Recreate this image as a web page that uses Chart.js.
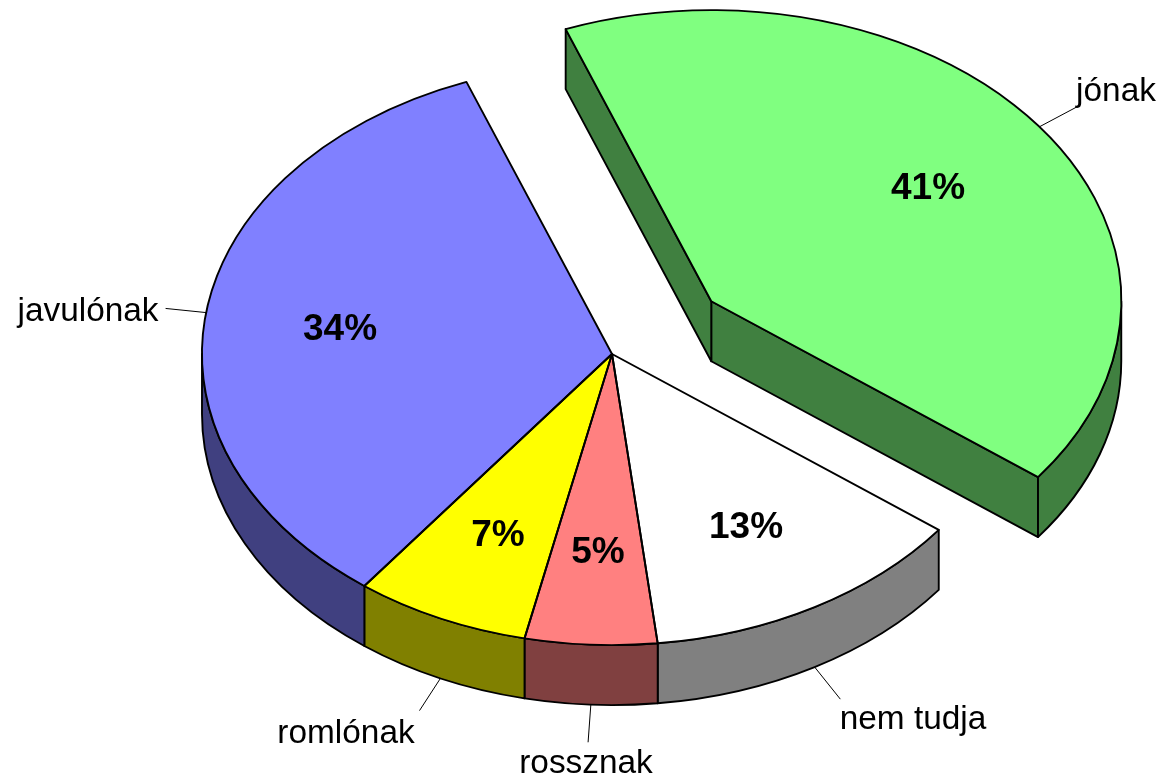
<!DOCTYPE html>
<html>
<head>
<meta charset="utf-8">
<title>3D pie</title>
<style>
  html, body { margin: 0; padding: 0; background: #fff; }
  canvas { display: block; }
</style>
<script src="https://cdn.jsdelivr.net/npm/chart.js@4/dist/chart.umd.min.js"></script>
</head>
<body>
<canvas id="chart" width="1163" height="781"></canvas>
<script>
'use strict';

const categories = ['jónak', 'nem tudja', 'rossznak', 'romlónak', 'javulónak'];
const shares = [41.1, 12.9, 5.2, 6.9, 33.9];
const topColors = ['#80ff80', '#ffffff', '#ff8080', '#ffff00', '#8080ff'];
const sideColors = ['#408040', '#808080', '#804040', '#808000', '#404080'];
const explode = [124, 0, 0, 0, 0];

const squash = 0.71;
const depth = 60;
const lineWidth = 1.9;
const valueFont = 'bold 37px "Liberation Sans", Arial, sans-serif';
const nameFont = '33.4px "Liberation Sans", Arial, sans-serif';

// where the texts sit, in the picture's pixels
const valuePos = [[928, 189], [746, 528], [598, 553], [498, 536], [340, 330]];
const namePos = [[1116, 92], [913, 720], [586, 764], [346, 734], [88, 312]];
const leaderLen = [50, 52, 53, 50, 41];

// screen position of a slice tip, its y goes through the squash
const sliceOrigin = function (chart, arc) {
  const cy = (chart.chartArea.top + chart.chartArea.bottom) / 2;
  return { x: arc.x, y: cy + (arc.y - cy) * squash };
};

const drawSides = function (ctx, arc, o, pulled, color) {
  const r = arc.outerRadius;
  const rY = r * squash;
  const pt = a => ({ x: o.x + Math.cos(a) * r, y: o.y + Math.sin(a) * rY });

  ctx.fillStyle = color;
  ctx.strokeStyle = '#000';
  ctx.lineWidth = lineWidth;
  ctx.lineJoin = 'round';

  // flat cut faces, only the pulled out slice shows them
  if (pulled) {
    [arc.endAngle, arc.startAngle].forEach(a => {
      const p = pt(a);
      ctx.beginPath();
      ctx.moveTo(o.x, o.y);
      ctx.lineTo(p.x, p.y);
      ctx.lineTo(p.x, p.y + depth);
      ctx.lineTo(o.x, o.y + depth);
      ctx.closePath();
      ctx.fill();
      ctx.stroke();
    });
  }

  // rim, front half only
  const twoPi = Math.PI * 2;
  for (const shift of [-twoPi, 0, twoPi]) {
    const from = Math.max(arc.startAngle + shift, 0);
    const to = Math.min(arc.endAngle + shift, Math.PI);
    if (to <= from) continue;
    ctx.beginPath();
    ctx.ellipse(o.x, o.y, r, rY, 0, from, to);
    ctx.ellipse(o.x, o.y + depth, r, rY, 0, to, from, true);
    ctx.closePath();
    ctx.fill();
    ctx.stroke();
  }
};

const pie3d = {
  id: 'pie3d',
  // the library's own offset also grows the radius, so move the slice here
  afterDatasetsUpdate(chart) {
    chart.getDatasetMeta(0).data.forEach((arc, i) => {
      const mid = (arc.startAngle + arc.endAngle) / 2;
      arc.x += Math.cos(mid) * explode[i];
      arc.y += Math.sin(mid) * explode[i];
    });
  },
  beforeDatasetsDraw(chart) {
    const ctx = chart.ctx;
    const arcs = chart.getDatasetMeta(0).data;
    arcs.forEach((arc, i) =>
      drawSides(ctx, arc, sliceOrigin(chart, arc), explode[i] > 0, sideColors[i])
    );
    // the library's slices get drawn through this squash
    const cy = (chart.chartArea.top + chart.chartArea.bottom) / 2;
    ctx.save();
    ctx.translate(0, cy);
    ctx.scale(1, squash);
    ctx.translate(0, -cy);
  },
  afterDatasetsDraw(chart) {
    const ctx = chart.ctx;
    ctx.restore();
    const arcs = chart.getDatasetMeta(0).data;

    // outlines stroked unsquashed, so the line keeps its width
    arcs.forEach(arc => {
      const o = sliceOrigin(chart, arc);
      ctx.beginPath();
      ctx.moveTo(o.x, o.y);
      ctx.ellipse(o.x, o.y, arc.outerRadius, arc.outerRadius * squash, 0, arc.startAngle, arc.endAngle);
      ctx.closePath();
      ctx.strokeStyle = '#000';
      ctx.lineWidth = lineWidth;
      ctx.lineJoin = 'round';
      ctx.stroke();
    });

    // leader lines start on the rim at the middle of each slice
    arcs.forEach((arc, i) => {
      const o = sliceOrigin(chart, arc);
      const mid = (arc.startAngle + arc.endAngle) / 2;
      const cos = Math.cos(mid);
      const sin = Math.sin(mid);
      const drop = sin > 0 ? depth : 0;
      const x0 = o.x + cos * arc.outerRadius;
      const y0 = o.y + sin * arc.outerRadius * squash + drop;
      ctx.beginPath();
      ctx.moveTo(x0, y0);
      ctx.lineTo(x0 + cos * leaderLen[i], y0 + sin * leaderLen[i] * squash);
      ctx.lineWidth = 1;
      ctx.strokeStyle = '#000';
      ctx.stroke();
    });

    ctx.fillStyle = '#000';
    ctx.textAlign = 'center';
    ctx.textBaseline = 'middle';
    ctx.font = valueFont;
    shares.forEach((v, i) => ctx.fillText(Math.round(v) + '%', valuePos[i][0], valuePos[i][1]));
    ctx.font = nameFont;
    categories.forEach((c, i) => ctx.fillText(c, namePos[i][0], namePos[i][1]));
  },
};

new Chart(document.getElementById('chart').getContext('2d'), {
  type: 'pie',
  data: {
    labels: categories,
    datasets: [
      {
        data: shares,
        backgroundColor: topColors,
        borderWidth: 0,
      },
    ],
  },
  options: {
    responsive: false,
    animation: false,
    rotation: -20.8,
    radius: 410,
    layout: { padding: { left: 61, right: 0, top: 0, bottom: 73 } },
    plugins: {
      legend: { display: false },
      tooltip: { enabled: false },
    },
  },
  plugins: [pie3d],
});
</script>
</body>
</html>
